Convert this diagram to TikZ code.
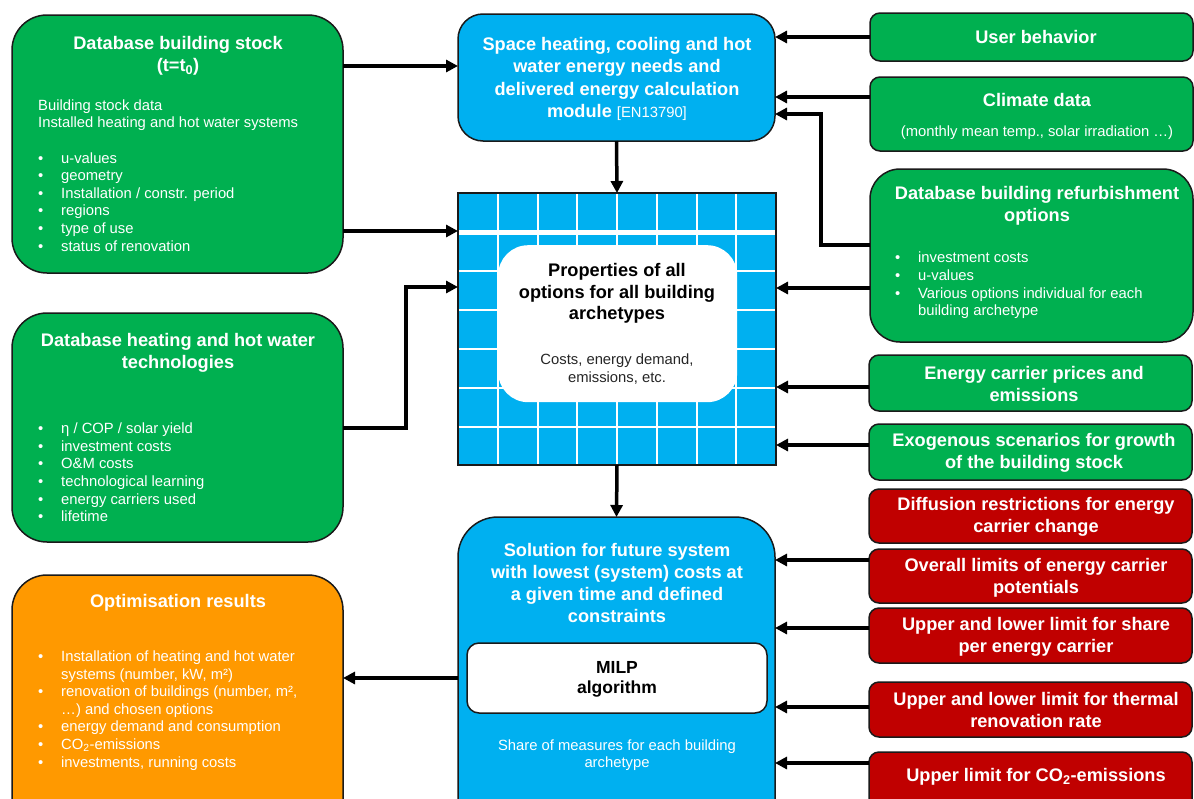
\documentclass[tikz,border=0pt]{standalone}
\usepackage{fontspec}
\setmainfont{Liberation Sans}
\usetikzlibrary{arrows.meta,calc}
\definecolor{cgreen}{HTML}{00B050}
\definecolor{cblue}{HTML}{00B0F0}
\definecolor{cred}{HTML}{C00000}
\definecolor{corange}{HTML}{FF9900}
\definecolor{cborder}{HTML}{1A1A1A}
\newcommand\Tfont{\fontsize{18.2}{22.2}\selectfont\bfseries}
\newcommand\Bfont{\fontsize{14.8}{17.6}\selectfont}
\newcommand\bul{\makebox[23pt][l]{\textbullet}}
\newcommand\ind{\hspace*{23pt}}
\begin{document}
\begin{tikzpicture}[x=1pt,y=-1pt,
  box/.style={draw=cborder,line width=1.5pt,anchor=north west,inner sep=0pt,outer sep=0pt},
  gbox/.style={box,fill=cgreen},
  rbox/.style={box,fill=cred},
  side/.style={minimum width=323pt,rounded corners=10pt},
  ttl/.style={inner sep=0pt,align=center,text=white,font=\Tfont},
  ttlk/.style={inner sep=0pt,align=center,text=black,font=\Tfont},
  bdy/.style={inner sep=0pt,align=left,anchor=west,text=white,font=\Bfont},
  arr/.style={line width=3.5pt,-{Triangle[length=12pt,width=12pt]}}
]
\path[use as bounding box] (0,0) rectangle (1194,798);
\clip (0,0) rectangle (1194,798);
\fill[white] (0,0) rectangle (1194,798);

% ---------- left boxes ----------
\node[gbox,rounded corners=35pt,minimum width=331pt,minimum height=258pt] (dbs) at (12,15) {};
\node[ttl] (dbsT) at (178,56) {Database building stock\\(t=t\textsubscript{0})};
\node[bdy] (dbsB) at (38,175.5) {Building stock data\\Installed heating and hot water systems\\[17.6pt]
\bul u-values\\\bul geometry\\\bul Installation / constr. period\\\bul regions\\\bul type of use\\\bul status of renovation};

\node[gbox,rounded corners=35pt,minimum width=331pt,minimum height=229pt] (ht) at (12,313) {};
\node[ttl] (htT) at (178,352.5) {Database heating and hot water\\technologies};
\node[bdy] (htB) at (38,472.5) {\bul η / COP / solar yield\\\bul investment costs\\\bul O\&M costs\\\bul technological learning\\\bul energy carriers used\\\bul lifetime};

\node[box,fill=corange,rounded corners=35pt,minimum width=331pt,minimum height=265pt] (opt) at (12,575) {};
\node[ttl] (optT) at (178,603) {Optimisation results};
\node[bdy] (optB) at (38,710.5) {\bul Installation of heating and hot water\\\ind systems (number, kW, m²)\\\bul renovation of buildings (number, m²,\\\ind …) and chosen options\\\bul energy demand and consumption\\\bul CO\textsubscript{2}-emissions\\\bul investments, running costs};

% ---------- centre column ----------
\node[box,fill=cblue,rounded corners=25pt,minimum width=317pt,minimum height=127pt] (heat) at (458,14) {};
\node[ttl] (heatT) at (617,79) {Space heating, cooling and hot\\water energy needs and\\delivered energy calculation\\module {\mdseries\fontsize{14.8}{17}\selectfont [EN13790]}};

\node[box,fill=cblue,minimum width=318pt,minimum height=272pt] (grid) at (458,193) {};
\foreach \i in {1,...,7}
  \draw[white,line width=2pt] ($(grid.north west)+(\i*39.75,0.8)$) -- ($(grid.south west)+(\i*39.75,-0.8)$);
\draw[white,line width=5pt] ($(grid.north west)+(0.8,39)$) -- ($(grid.north east)+(-0.8,39)$);
\foreach \j in {78,117,156,195,234}
  \draw[white,line width=2pt] ($(grid.north west)+(0.8,\j)$) -- ($(grid.north east)+(-0.8,\j)$);
\node[fill=white,rounded corners=30pt,minimum width=239pt,minimum height=157pt,anchor=north west,inner sep=0pt] (gin) at (498,245) {};
\node[ttlk,font=\fontsize{18.2}{21.5}\selectfont\bfseries] (ginT) at (617,293.5) {Properties of all\\options for all building\\archetypes};
\node[inner sep=0pt,align=center,font=\Bfont,text=black!85] (ginB) at (617,369) {Costs, energy demand,\\emissions, etc.};

\node[box,fill=cblue,rounded corners=40pt,minimum width=317pt,minimum height=330pt] (sol) at (458,517) {};
\node[ttl] (solT) at (617,583) {Solution for future system\\with lowest (system) costs at\\a given time and defined\\constraints};
\node[box,fill=white,rounded corners=12pt,minimum width=300pt,minimum height=70pt] (milp) at (467,643) {};
\node[ttlk,font=\fontsize{17.5}{20}\selectfont\bfseries] (milpT) at (617,679) {MILP\\algorithm};
\node[inner sep=0pt,align=center,font=\Bfont,text=white] (solB) at (617,755) {Share of measures for each building\\archetype};

% ---------- right column ----------
\node[gbox,side,minimum height=48pt] (ub) at (870,13) {};
\node[ttl] (ubT) at (1036,37) {User behavior};
\node[gbox,side,minimum height=74pt] (clim) at (870,77) {};
\node[ttl] (climT) at (1037,100) {Climate data};
\node[inner sep=0pt,font=\Bfont,text=white] (climB) at (1037,133) {(monthly mean temp., solar irradiation …)};
\node[gbox,side,rounded corners=30pt,minimum height=173pt] (ref) at (870,169) {};
\node[ttl] (refT) at (1037,206) {Database building refurbishment\\options};
\node[bdy] (refB) at (895,285.5) {\bul investment costs\\\bul u-values\\\bul Various options individual for each\\\ind building archetype};
\node[gbox,side,minimum height=56pt] (ecp) at (869,355) {};
\node[ttl] (ecpT) at (1034,384) {Energy carrier prices and\\emissions};
\node[gbox,side,minimum height=56pt] (exo) at (869,424) {};
\node[ttl] (exoT) at (1034,452.5) {Exogenous scenarios for growth\\of the building stock};
\node[rbox,side,minimum height=54pt] (dif) at (869,489) {};
\node[ttl] (difT) at (1036,517) {Diffusion restrictions for energy\\carrier change};
\node[rbox,side,minimum height=54pt] (ovl) at (869,549) {};
\node[ttl] (ovlT) at (1036,577.5) {Overall limits of energy carrier\\potentials};
\node[rbox,side,minimum height=55pt] (ups) at (869,608) {};
\node[ttl] (upsT) at (1036,636.5) {Upper and lower limit for share\\per energy carrier};
\node[rbox,side,minimum height=55pt] (thr) at (869,682) {};
\node[ttl] (thrT) at (1036,710) {Upper and lower limit for thermal\\renovation rate};
\node[rbox,side,minimum height=80pt] (co2) at (869,752) {};
\node[ttl] (co2T) at (1036,777) {Upper limit for CO\textsubscript{2}-emissions};

% ---------- connectors ----------
\draw[arr] (dbs.east |- 0,66) -- (heat.west |- 0,66);
\draw[arr] (dbs.east |- 0,231) -- (grid.west |- 0,231);
\coordinate (bendA) at (406,428);
\draw[arr] (ht.east |- bendA) -- (bendA) |- (grid.west |- 0,287);
\draw[arr] (heat.south) -- (grid.north);
\draw[arr] (grid.south) -- (sol.north);
\draw[arr] (sol.west |- 0,678) -- (opt.east |- 0,678);
\draw[arr] (ub.west) -- (ub.west -| heat.east);
\draw[arr] (clim.west |- 0,97) -- (heat.east |- 0,97);
\coordinate (bendB) at (821,245);
\draw[arr] (ref.west |- bendB) -- (bendB) |- (heat.east |- 0,114);
\draw[arr] (ref.west |- 0,288) -- (grid.east |- 0,288);
\draw[arr] (ecp.west |- 0,387) -- (grid.east |- 0,387);
\draw[arr] (exo.west |- 0,445) -- (grid.east |- 0,445);
\draw[arr] (ovl.west |- 0,560) -- (sol.east |- 0,560);
\draw[arr] (ups.west |- 0,628) -- (sol.east |- 0,628);
\draw[arr] (thr.west |- 0,707) -- (sol.east |- 0,707);
\draw[arr] (co2.west |- 0,763) -- (sol.east |- 0,763);
\end{tikzpicture}
\end{document}
